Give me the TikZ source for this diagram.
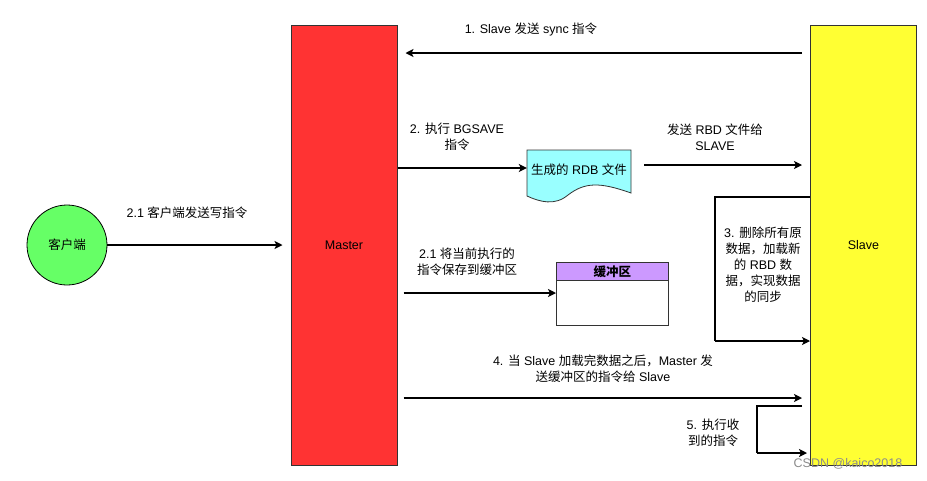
\documentclass[tikz,border=0pt]{standalone}
\usepackage{fontspec}
\setmainfont{Liberation Sans}
\newfontfamily\cjk{Noto Sans CJK SC}
\usetikzlibrary{arrows.meta,calc}
\newcommand\zh[1]{{\cjk #1}}
\definecolor{mred}{HTML}{FF3333}
\definecolor{syel}{HTML}{FFFF33}
\definecolor{cgreen}{HTML}{66FF66}
\definecolor{dcyan}{HTML}{99FFFF}
\definecolor{bpurple}{HTML}{CC99FF}
\definecolor{edge}{HTML}{333333}
\begin{document}
\begin{tikzpicture}[x=1pt,y=-1pt,
  every node/.style={font=\fontsize{12.5}{16}\selectfont, inner sep=0pt},
  lbl/.style={align=center},
  arr/.style={line width=1.3pt, -{Stealth[length=8pt,width=8pt,inset=2pt]}},
  bigbox/.style={draw=edge, line width=1pt, minimum width=106pt, minimum height=440pt},
]
\useasboundingbox (0,0) rectangle (927,480);
\fill[white] (0,0) rectangle (927,480);

% main boxes
\node[bigbox, fill=mred] (master) at (344,245) {Master};
\node[bigbox, fill=syel] (slave) at (863.5,245) {Slave};

% client
\node[circle, draw=black, line width=0.8pt, fill=cgreen, minimum size=80pt] (client) at (67,245) {\zh{客户端}};

% y levels
\coordinate (y1) at (0,53);
\coordinate (y2) at (0,168);
\coordinate (y2b) at (0,165);
\coordinate (y3a) at (0,197);
\coordinate (y3b) at (0,341);
\coordinate (yb) at (0,293);
\coordinate (y4) at (0,398);
\coordinate (y5a) at (0,406);
\coordinate (y5b) at (0,453);

% step 1
\draw[arr, shorten <=8pt, shorten >=8pt] (slave.west |- y1) -- (master.east |- y1);
\node[lbl] (l1) at (531,30) {1. Slave \zh{发送} sync \zh{指令}};

% client arrow
\draw[arr, shorten >=8pt] (client.east) -- (master.west |- client.east);
\node[lbl] (lc) at (187,213) {2.1 \zh{客户端发送写指令}};

% document shape
\node[minimum width=104pt, minimum height=40pt] (doc) at (579,170) {};
\draw[draw=edge, line width=0.8pt, fill=dcyan]
  (527,150) -- (631,150) -- (631,193)
  .. controls (600,182) and (585,182) .. (568,195)
  .. controls (555,206) and (540,202) .. (527,196) -- cycle;
\node (doct) at (doc.center) {\zh{生成的} RDB \zh{文件}};

\draw[arr] (master.east |- y2) -- (doc.west |- y2);
\node[lbl] (l2) at (457,137) {2. \zh{执行} BGSAVE\\\zh{指令}};

\draw[arr, shorten <=13pt, shorten >=8pt] (doc.east |- y2b) -- (slave.west |- y2b);
\node[lbl] (l2b) at (715,137) {\zh{发送} RBD \zh{文件给}\\SLAVE};

% buffer
\node[draw=edge, line width=0.8pt, fill=white, minimum width=112pt, minimum height=63pt, anchor=north west] (buf) at (556,262) {};
\node[draw=edge, line width=0.8pt, fill=bpurple, minimum width=112pt, minimum height=18pt, anchor=north west] (bufh) at (556,262) {\zh{\bfseries 缓冲区}};
\draw[arr, shorten <=6pt] (master.east |- yb) -- (buf.west |- yb);
\node[lbl] (lb) at (467,262) {2.1 \zh{将当前执行的}\\\zh{指令保存到缓冲区}};

% step 3 loop
\coordinate (c3a) at (715,197);
\coordinate (c3b) at (715,341);
\draw[line width=1.3pt] (slave.west |- y3a) -- (c3a) -- (c3b);
\draw[arr] (c3b) -- (slave.west |- y3b);
\node[lbl] (l3) at (763,265) {3. \zh{删除所有原}\\\zh{数据，加载新}\\\zh{的} RBD \zh{数}\\\zh{据，实现数据}\\\zh{的同步}};

% step 4
\draw[arr, shorten <=6pt, shorten >=8pt] (master.east |- y4) -- (slave.west |- y4);
\node[lbl] (l4) at (603,369) {4. \zh{当} Slave \zh{加载完数据之后，}Master \zh{发}\\\zh{送缓冲区的指令给} Slave};

% step 5 loop
\coordinate (c5a) at (757,406);
\coordinate (c5b) at (757,453);
\draw[line width=1.3pt, shorten <=8pt] (slave.west |- y5a) -- (c5a) -- (c5b);
\draw[arr, shorten >=3pt] (c5b) -- (slave.west |- y5b);
\node[lbl] (l5) at (713,433) {5. \zh{执行收}\\\zh{到的指令}};

% watermark
\node[text=gray!90, font=\fontsize{12.5}{14}\selectfont] (wm) at (848,464) {CSDN @kaico2018};
\end{tikzpicture}
\end{document}
